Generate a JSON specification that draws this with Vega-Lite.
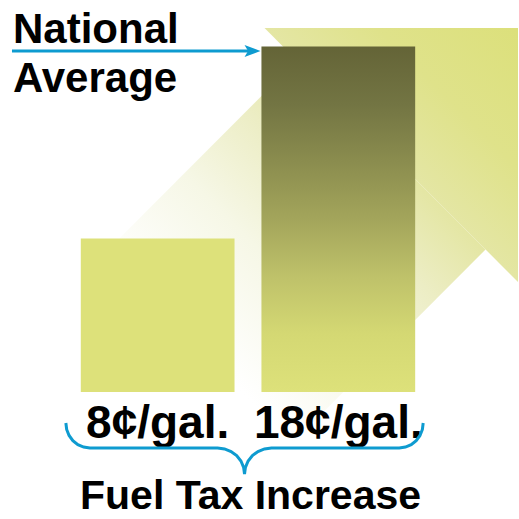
{
  "$schema": "https://vega.github.io/schema/vega-lite/v6.json",
  "width": 519,
  "height": 519,
  "autosize": {"type": "fit", "contains": "padding"},
  "padding": 0,
  "background": "white",
  "config": {"view": {"stroke": null}},
  "datasets": {
    "taxes": [
      {"label": "8¢/gal.", "cents": 8},
      {"label": "18¢/gal.", "cents": 18}
    ],
    "arrowHead": [
      {"u": 13.8021, "top": 18.9583, "bottom": 18.9583},
      {"u": 27.0313, "top": 18.9583, "bottom": 5.7292}
    ],
    "arrowShaft": [
      {"u": 0, "top": 1.7708, "bottom": -6.6146},
      {"u": 11.3021, "top": 13.0729, "bottom": -6.6146},
      {"u": 15.4948, "top": 17.2656, "bottom": -2.4219},
      {"u": 25.3385, "top": 7.4219, "bottom": 7.4219}
    ],
    "brace": [
      {"u": 3.4375, "v": -1.6146}, {"u": 3.4792, "v": -1.9531}, {"u": 3.6042, "v": -2.2656},
      {"u": 3.8021, "v": -2.5365}, {"u": 4.0625, "v": -2.7448}, {"u": 4.3646, "v": -2.8698},
      {"u": 4.6875, "v": -2.9167}, {"u": 11.3542, "v": -2.9167}, {"u": 11.7188, "v": -2.9635},
      {"u": 12.0573, "v": -3.099}, {"u": 12.349, "v": -3.3125}, {"u": 12.5729, "v": -3.5938},
      {"u": 12.7135, "v": -3.9219}, {"u": 12.7604, "v": -4.2708}, {"u": 12.8073, "v": -3.9219},
      {"u": 12.9479, "v": -3.5938}, {"u": 13.1719, "v": -3.3125}, {"u": 13.4635, "v": -3.099},
      {"u": 13.8021, "v": -2.9635}, {"u": 14.1667, "v": -2.9167}, {"u": 20.8333, "v": -2.9167},
      {"u": 21.1563, "v": -2.8698}, {"u": 21.4583, "v": -2.7448}, {"u": 21.7188, "v": -2.5365},
      {"u": 21.9167, "v": -2.2656}, {"u": 22.0417, "v": -1.9531}, {"u": 22.0833, "v": -1.6146}
    ]
  },
  "resolve": {"scale": {"x": "independent"}},
  "layer": [
    {
      "data": {"name": "arrowHead"},
      "mark": {
        "type": "area",
        "color": {
          "gradient": "linear",
          "x1": -1.5236, "y1": 0, "x2": -0.2618, "y2": -1.2618,
          "stops": [
            {"offset": 0, "color": "#ffffff"},
            {"offset": 0.25, "color": "#f6f7e6"},
            {"offset": 0.45, "color": "#ecedc4"},
            {"offset": 0.6, "color": "#e4e6a4"},
            {"offset": 0.78, "color": "#dfe28a"},
            {"offset": 1, "color": "#dce07b"}
          ]
        }
      },
      "encoding": {
        "x": {"field": "u", "type": "quantitative", "scale": {"domain": [0, 27.03125], "nice": false, "zero": false}, "axis": null},
        "y": {"field": "top", "type": "quantitative", "scale": {"domain": [-6.6146, 20.4167], "nice": false, "zero": false}, "axis": null},
        "y2": {"field": "bottom"}
      }
    },
    {
      "data": {"name": "arrowShaft"},
      "mark": {
        "type": "area",
        "color": {
          "gradient": "linear",
          "x1": -0.18397, "y1": 0, "x2": 0.5138, "y2": -0.6576,
          "stops": [
            {"offset": 0, "color": "#ffffff"},
            {"offset": 0.25, "color": "#f6f7e6"},
            {"offset": 0.45, "color": "#ecedc4"},
            {"offset": 0.6, "color": "#e4e6a4"},
            {"offset": 0.78, "color": "#dfe28a"},
            {"offset": 1, "color": "#dce07b"}
          ]
        }
      },
      "encoding": {
        "x": {"field": "u", "type": "quantitative", "scale": {"domain": [0, 27.03125], "nice": false, "zero": false}, "axis": null},
        "y": {"field": "top", "type": "quantitative", "scale": {"domain": [-6.6146, 20.4167], "nice": false, "zero": false}, "axis": null},
        "y2": {"field": "bottom"}
      }
    },
    {
      "data": {"name": "taxes"},
      "mark": {"type": "bar"},
      "encoding": {
        "x": {"field": "label", "type": "nominal", "sort": null, "scale": {"type": "band", "paddingInner": 0.149, "paddingOuter": 0.5082, "align": 0.44}, "axis": null},
        "y": {"field": "cents", "type": "quantitative", "scale": {"domain": [-6.6146, 20.4167], "nice": false, "zero": false}, "axis": null},
        "color": {
          "condition": {
            "test": "datum.cents > 10",
            "value": {
              "gradient": "linear", "x1": 0, "y1": 0, "x2": 0, "y2": 1,
              "stops": [
                {"offset": 0, "color": "#646437"},
                {"offset": 0.17, "color": "#737543"},
                {"offset": 0.33, "color": "#8a8c4e"},
                {"offset": 0.5, "color": "#a3a55b"},
                {"offset": 0.67, "color": "#bfc26a"},
                {"offset": 0.83, "color": "#d4d873"},
                {"offset": 1, "color": "#dde17a"}
              ]
            }
          },
          "value": "#dde17a"
        }
      }
    },
    {
      "data": {"name": "taxes"},
      "mark": {"type": "text", "font": "Liberation Sans", "fontWeight": "bold", "fontSize": 46, "baseline": "alphabetic", "align": "center", "color": "#000000"},
      "encoding": {
        "x": {"field": "label", "type": "nominal", "sort": null, "scale": {"type": "band", "paddingInner": 0.149, "paddingOuter": 0.5082, "align": 0.44}, "axis": null, "bandPosition": 0.5},
        "y": {"datum": -2.396, "type": "quantitative", "scale": {"domain": [-6.6146, 20.4167], "nice": false, "zero": false}, "axis": null},
        "text": {"field": "label"}
      }
    },
    {
      "data": {"name": "brace"},
      "mark": {"type": "line", "color": "#0e9bd0", "strokeWidth": 3},
      "encoding": {
        "x": {"field": "u", "type": "quantitative", "scale": {"domain": [0, 27.03125], "nice": false, "zero": false}, "axis": null},
        "y": {"field": "v", "type": "quantitative", "scale": {"domain": [-6.6146, 20.4167], "nice": false, "zero": false}, "axis": null}
      }
    },
    {
      "data": {"values": [{}]},
      "mark": {"type": "rule", "color": "#0e9bd0", "strokeWidth": 3},
      "encoding": {
        "x": {"datum": 0.625, "type": "quantitative", "scale": {"domain": [0, 27.03125], "nice": false, "zero": false}, "axis": null},
        "x2": {"datum": 13.02},
        "y": {"datum": 17.76, "type": "quantitative", "scale": {"domain": [-6.6146, 20.4167], "nice": false, "zero": false}, "axis": null}
      }
    },
    {
      "data": {"values": [{}]},
      "mark": {"type": "point", "filled": true, "color": "#0e9bd0", "opacity": 1, "size": 256, "shape": "M-1,-0.75L1,0L-1,0.75L-0.55,0Z"},
      "encoding": {
        "x": {"datum": 13.177, "type": "quantitative", "scale": {"domain": [0, 27.03125], "nice": false, "zero": false}, "axis": null},
        "y": {"datum": 17.76, "type": "quantitative", "scale": {"domain": [-6.6146, 20.4167], "nice": false, "zero": false}, "axis": null}
      }
    },
    {
      "data": {"values": [{}]},
      "mark": {"type": "text", "text": "National", "font": "Liberation Sans", "fontWeight": "bold", "fontSize": 42, "align": "left", "baseline": "alphabetic", "color": "#000000"},
      "encoding": {
        "x": {"datum": 0.677, "type": "quantitative", "scale": {"domain": [0, 27.03125], "nice": false, "zero": false}, "axis": null},
        "y": {"datum": 18.177, "type": "quantitative", "scale": {"domain": [-6.6146, 20.4167], "nice": false, "zero": false}, "axis": null}
      }
    },
    {
      "data": {"values": [{}]},
      "mark": {"type": "text", "text": "Average", "font": "Liberation Sans", "fontWeight": "bold", "fontSize": 42, "align": "left", "baseline": "alphabetic", "color": "#000000"},
      "encoding": {
        "x": {"datum": 0.677, "type": "quantitative", "scale": {"domain": [0, 27.03125], "nice": false, "zero": false}, "axis": null},
        "y": {"datum": 15.625, "type": "quantitative", "scale": {"domain": [-6.6146, 20.4167], "nice": false, "zero": false}, "axis": null}
      }
    },
    {
      "data": {"values": [{}]},
      "mark": {"type": "text", "text": "Fuel Tax Increase", "font": "Liberation Sans", "fontWeight": "bold", "fontSize": 41, "align": "center", "baseline": "alphabetic", "color": "#000000"},
      "encoding": {
        "x": {"datum": 13.073, "type": "quantitative", "scale": {"domain": [0, 27.03125], "nice": false, "zero": false}, "axis": null},
        "y": {"datum": -6.094, "type": "quantitative", "scale": {"domain": [-6.6146, 20.4167], "nice": false, "zero": false}, "axis": null}
      }
    }
  ]
}
